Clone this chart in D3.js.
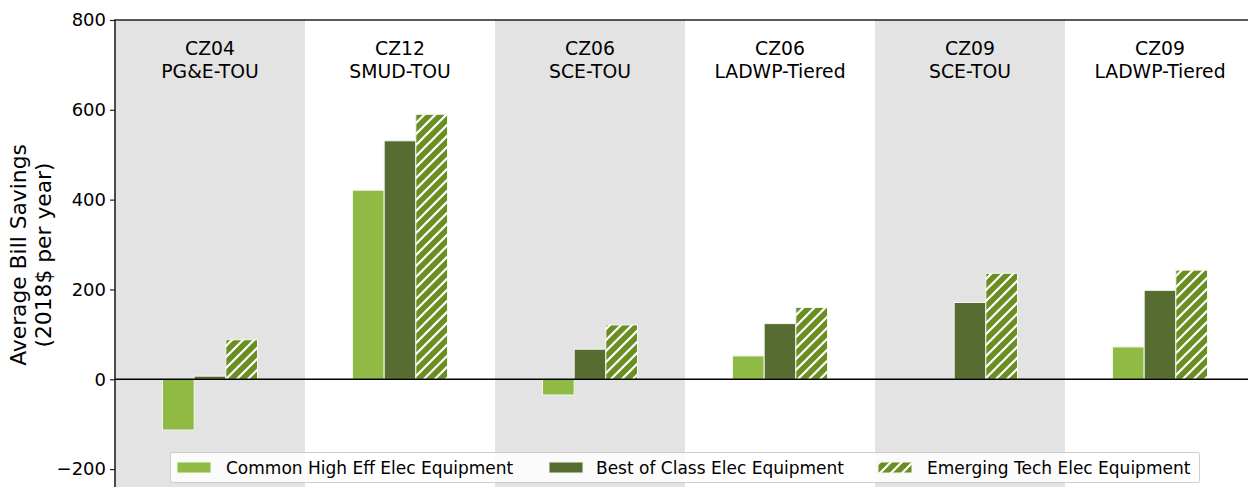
<!DOCTYPE html>
<html><head><meta charset="utf-8">
<script src="https://cdn.jsdelivr.net/npm/d3@7"></script>
<style>body{margin:0;background:#fff;}svg{display:block;font-family:"DejaVu Sans",sans-serif;}</style>
</head><body>
<svg id="chart" width="1248" height="487"></svg>
<script>
const categories = ["CZ04\nPG&E-TOU","CZ12\nSMUD-TOU","CZ06\nSCE-TOU","CZ06\nLADWP-Tiered","CZ09\nSCE-TOU","CZ09\nLADWP-Tiered"];
const series = ["Common High Eff Elec Equipment","Best of Class Elec Equipment","Emerging Tech Elec Equipment"];
const commonHighEff = [-113, 421, -35, 52, 0, 72];
const bestOfClass = [7, 531, 67, 124, 171, 198];
const emergingTech = [88, 590, 121, 160, 236, 243];
const yTicks = [-200, 0, 200, 400, 600, 800];
const values = [commonHighEff, bestOfClass, emergingTech];

const svg = d3.select("#chart");
const mLeft = 115, mRight = 1255, mTop = 20, mBottom = 487;
const x = d3.scaleBand().domain(categories).range([mLeft, mRight]).padding(0);
const bw = x.bandwidth();
const xs = d3.scaleBand().domain(series).range([bw/4, bw*3/4]).padding(0);
const y = d3.scaleLinear().domain([-200, 800]).range([469.1, 20]);

const defs = svg.append("defs");
const pat = defs.append("pattern").attr("id","hatch").attr("patternUnits","userSpaceOnUse")
  .attr("width",11).attr("height",11);
pat.append("rect").attr("width",11).attr("height",11).attr("fill","#6b8e23");
pat.append("path").attr("d","M-1,12 L12,-1 M-3,3 L3,-3 M8,14 L14,8").attr("stroke","#fff").attr("stroke-width",2.2);

const fills = ["#8fbb44","#566c30","url(#hatch)"];

// panel backgrounds
svg.selectAll("rect.bg").data(categories).join("rect").attr("class","bg")
  .attr("x", d=>x(d)).attr("y", mTop).attr("width", bw).attr("height", mBottom-mTop)
  .attr("fill", (d,i)=> i%2===0 ? "#e3e3e3" : "#ffffff");

// panel labels
categories.forEach(c=>{
  const lines = c.split("\n");
  const t = svg.append("text").attr("text-anchor","middle").attr("font-size",18.8).attr("fill","#000");
  lines.forEach((l,i)=> t.append("tspan").attr("x", x(c)+bw/2).attr("y", 55 + i*22.5).text(l));
});

// bars
series.forEach((s,si)=>{
  svg.append("g").selectAll("rect").data(values[si]).join("rect")
    .attr("x",(d,i)=> x(categories[i]) + xs(s))
    .attr("width", xs.bandwidth())
    .attr("y", d=> y(Math.max(0,d)))
    .attr("height", d=> Math.abs(y(d)-y(0)))
    .attr("fill", fills[si])
    .attr("stroke", d=> d===0 ? "none" : "#f4f7ee").attr("stroke-width",1);
});

// zero line
svg.append("line").attr("x1",mLeft).attr("x2",1248).attr("y1",y(0)).attr("y2",y(0))
  .attr("stroke","#000").attr("stroke-width",1.6);

// axis
const yAxis = d3.axisLeft(y).tickValues(yTicks).tickSize(5).tickPadding(4)
  .tickFormat(d=> d<0 ? "\u2212"+Math.abs(d) : d);
const ga = svg.append("g").attr("transform",`translate(${mLeft},0)`).call(yAxis);
ga.select(".domain").remove();
ga.selectAll("text").attr("font-size",18).attr("fill","#000").attr("font-family","DejaVu Sans");
ga.selectAll("line").attr("stroke","#222").attr("stroke-width",1.2);
svg.append("line").attr("x1",mLeft).attr("x2",mLeft).attr("y1",mTop-0.8).attr("y2",mBottom)
  .attr("stroke","#222").attr("stroke-width",1.6);
svg.append("line").attr("x1",mLeft).attr("x2",1248).attr("y1",mTop).attr("y2",mTop)
  .attr("stroke","#222").attr("stroke-width",1.6);

// y label
const yl = svg.append("text").attr("transform","translate(0,255) rotate(-90)")
  .attr("text-anchor","middle").attr("font-size",21.8).attr("fill","#000");
yl.append("tspan").attr("x",0).attr("y",26).text("Average Bill Savings");
yl.append("tspan").attr("x",0).attr("y",51).text("(2018$ per year)");

// legend
const lg = svg.append("g");
lg.append("rect").attr("x",170.5).attr("y",452.5).attr("width",1029).attr("height",30).attr("rx",2)
  .attr("fill","#fff").attr("fill-opacity",0.85).attr("stroke","#cccccc").attr("stroke-width",1);
const lx = [177, 549, 878];
const tx = [226, 596, 927];
series.forEach((s,i)=>{
  lg.append("rect").attr("x",lx[i]).attr("y",462).attr("width",34).attr("height",11)
    .attr("fill",fills[i]).attr("stroke","#f4f7ee").attr("stroke-width",1);
  lg.append("text").attr("x",tx[i]).attr("y",473.5).attr("font-size",17).attr("fill","#000").text(s);
});
</script>
</body></html>
